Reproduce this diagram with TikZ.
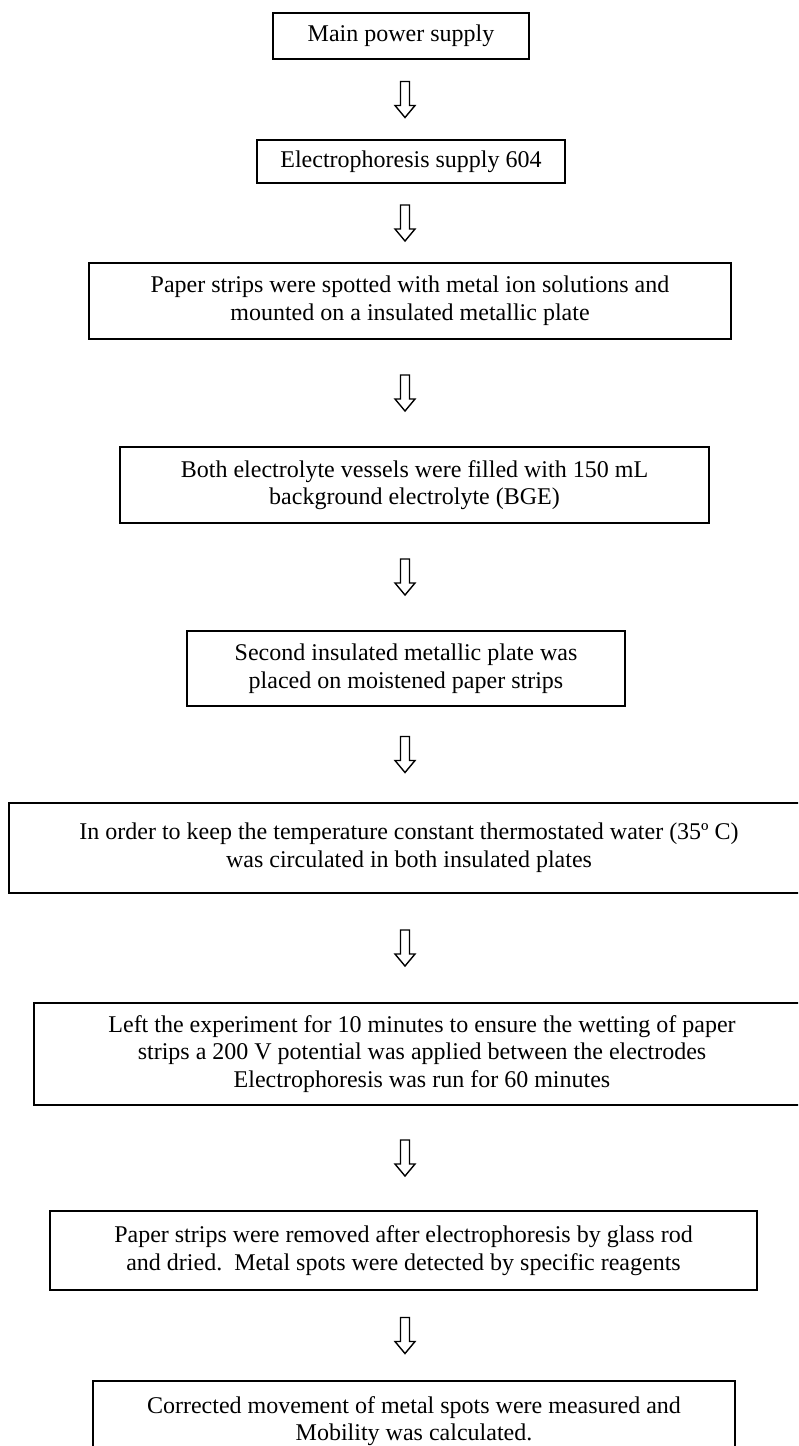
\documentclass[tikz,border=0pt]{standalone}
\usepackage{fontspec}
\setmainfont{Liberation Serif}
\usepackage{tikz}
\usetikzlibrary{calc}
\tikzset{
stage/.style={draw, line width=0.8pt, inner sep=0pt, align=center, font=\fontsize{12}{13.8}\selectfont}, % the boxes of the procedure
flow/.style={line width=0.7pt, to path={($(\tikztostart.south -| axis)!.5!(\tikztotarget.north -| axis)$) ++(-2.25,9) -- ++(0,-12) -- ++(-2.75,0) -- ++(5,-6) -- ++(5,6) -- ++(-2.75,0) -- ++(0,12) -- cycle}}, % hollow arrow halfway between two boxes
}

\begin{document}
\begin{tikzpicture}[x=1pt,y=1pt]
		\useasboundingbox (0,0) rectangle (399,-723);
		\clip (0,0) rectangle (399,-723);
		\coordinate (axis) at (202.5,0);
		\node[stage, minimum width=128pt, minimum height=23pt] (1) at (200.5,-18) {Main power supply};
		\node[stage, minimum width=154pt, minimum height=21.5pt] (2) at (205.5,-80.75) {Electrophoresis supply 604};
		\node[stage, minimum width=321pt, minimum height=38pt] (3) at (205,-150.5) {Paper strips were spotted with metal ion solutions and\\mounted on a insulated metallic plate};
		\node[stage, minimum width=294.5pt, minimum height=38pt] (4) at (207.25,-242.5) {Both electrolyte vessels were filled with 150 mL\\background electrolyte (BGE)};
		\node[stage, minimum width=219pt, minimum height=37.5pt] (5) at (203,-334.25) {Second insulated metallic plate was\\placed on moistened paper strips};
		\node[stage, minimum width=400pt, minimum height=45pt] (6) at (204.5,-424) {In order to keep the temperature constant thermostated water (35º C)\\was circulated in both insulated plates};
		\node[stage, minimum width=388pt, minimum height=51pt] (7) at (211,-527) {Left the experiment for 10 minutes to ensure the wetting of paper\\strips a 200 V potential was applied between the electrodes\\Electrophoresis was run for 60 minutes};
		\node[stage, minimum width=353.5pt, minimum height=39.5pt] (8) at (201.75,-625.25) {Paper strips were removed after electrophoresis by glass rod\\and dried.\ \ Metal spots were detected by specific reagents};
		\node[stage, minimum width=321pt, minimum height=40pt] (9) at (207,-710.5) {Corrected movement of metal spots were measured and\\Mobility was calculated.};
		\draw (1) edge[flow] (2)
		(2) edge[flow] (3)
		(3) edge[flow] (4)
		(4) edge[flow] (5)
		(5) edge[flow] (6)
		(6) edge[flow] (7)
		(7) edge[flow] (8)
		(8) edge[flow] (9);
	\end{tikzpicture}
\end{document}
